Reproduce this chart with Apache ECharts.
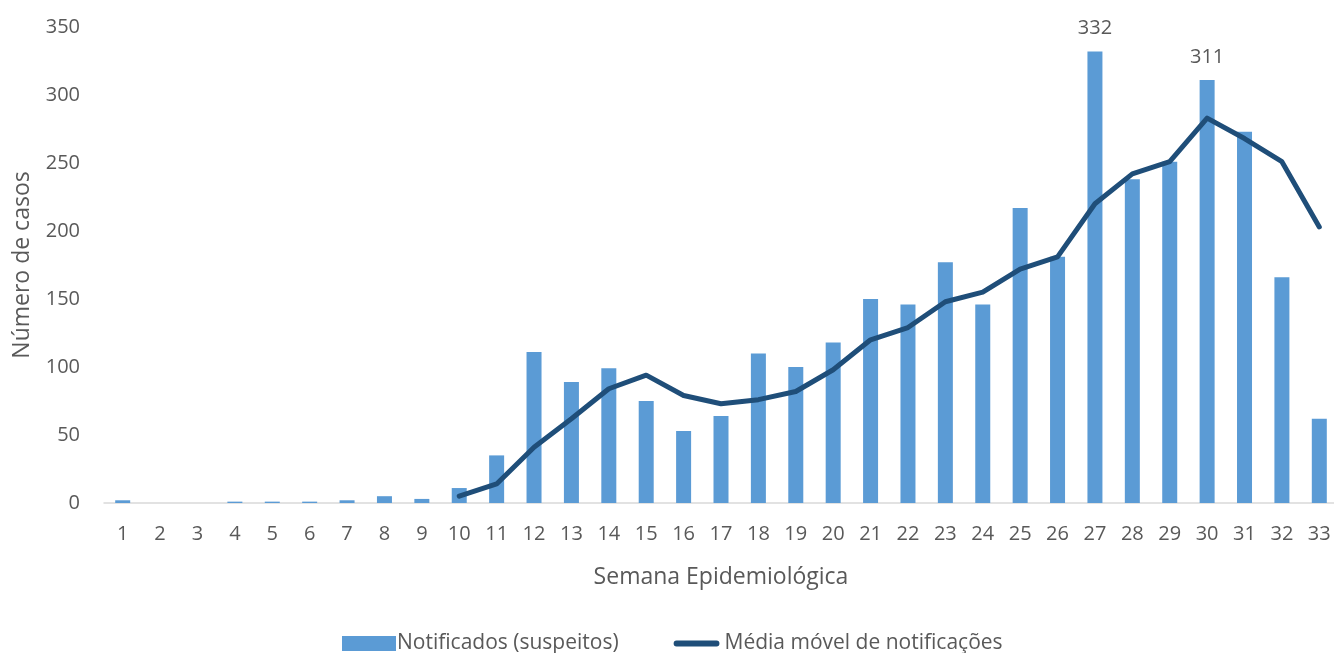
<!DOCTYPE html>
<html>
<head>
<meta charset="utf-8">
<script src="https://cdn.jsdelivr.net/npm/echarts@6/dist/echarts.min.js"></script>
<style>
  html, body { margin: 0; padding: 0; background: #fff; }
  #chart { width: 1334px; height: 653px; }
</style>
</head>
<body>
<div id="chart"></div>
<script>
  // semanas epidemiológicas 1..33
  var semanas = [];
  for (var s = 1; s <= 33; s++) semanas.push(String(s));

  var notificados = [2, 0, 0, 1, 1, 1, 2, 5, 3, 11, 35, 111, 89, 99, 75, 53, 64, 110, 100, 118,
    150, 146, 177, 146, 217, 181, 332, 238, 251, 311, 273, 166, 62];

  // média móvel começa na semana 10
  var mediaMovel = ['-', '-', '-', '-', '-', '-', '-', '-', '-', 5, 14, 41, 62, 84, 94, 79, 73, 76, 82, 98,
    120, 129, 148, 155, 172, 181, 220, 242, 251, 283, 268, 251, 203];

  // semanas com rótulo de valor
  var rotulos = [27, 30];

  var txt = '#595959';
  var fonte = '"Open Sans", "Noto Sans", sans-serif';

  var barData = notificados.map(function (v, i) {
    if (rotulos.indexOf(i + 1) >= 0) {
      return { value: v, label: { show: true } };
    }
    return v;
  });

  var myChart = echarts.init(document.getElementById('chart'));
  var option = {
    backgroundColor: '#fff',
    animation: false,
    textStyle: { fontFamily: fonte, color: txt },
    grid: { left: 104, right: -4, top: 27, bottom: 150, containLabel: false, outerBoundsMode: 'none' },
    legend: {
      bottom: -6,
      left: 337,
      itemGap: 55,
      itemWidth: 54,
      itemHeight: 15,
      textStyle: { color: txt, fontSize: 21, fontFamily: fonte, padding: [0, 0, 0, -4] },
      data: [
        { name: 'Notificados (suspeitos)', icon: 'rect' },
        {
          name: 'Média móvel de notificações',
          // barra grossa arredondada, centrada na altura do ícone
          icon: 'path://M0,0 L0.01,0 L0,0.01 Z M3,5.5 L51,5.5 A3.5,3.5 0 0 1 51,12.5 L3,12.5 A3.5,3.5 0 0 1 3,5.5 Z M0,18 L0.01,18 L0,17.99 Z M54,0 L54.01,0 L54,0.01 Z',
          itemStyle: { color: '#1f4e79' }
        }
      ]
    },
    xAxis: {
      type: 'category',
      data: semanas,
      name: 'Semana Epidemiológica',
      nameLocation: 'middle',
      nameGap: 63,
      nameTextStyle: { color: txt, fontSize: 23, fontFamily: fonte },
      axisTick: { show: false },
      axisLine: { lineStyle: { color: '#d9d9d9', width: 1.5 } },
      axisLabel: { color: txt, fontSize: 20, margin: 21, fontFamily: fonte }
    },
    yAxis: {
      type: 'value',
      min: 0,
      max: 350,
      interval: 50,
      name: 'Número de casos',
      nameLocation: 'middle',
      nameGap: 70,
      nameTextStyle: { color: txt, fontSize: 23, fontFamily: fonte },
      splitLine: { show: false },
      axisLine: { show: false },
      axisTick: { show: false },
      axisLabel: { color: txt, fontSize: 20, margin: 24, fontFamily: fonte }
    },
    series: [
      {
        name: 'Notificados (suspeitos)',
        type: 'bar',
        data: barData,
        barWidth: 15,
        itemStyle: { color: '#5b9bd5' },
        label: {
          show: false,
          position: 'top',
          distance: 13,
          color: txt,
          fontSize: 20,
          fontFamily: fonte
        }
      },
      {
        name: 'Média móvel de notificações',
        type: 'line',
        data: mediaMovel,
        symbol: 'none',
        lineStyle: { color: '#1f4e79', width: 5, cap: 'round', join: 'round' },
        itemStyle: { color: '#1f4e79' }
      }
    ]
  };
  myChart.setOption(option);
</script>
</body>
</html>
